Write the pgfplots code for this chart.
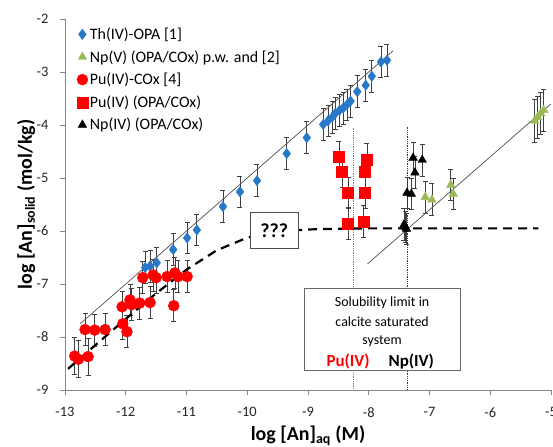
\documentclass[border=0pt]{standalone}
\usepackage{pgfplots}
\pgfplotsset{compat=1.18}
\usepackage{fontspec}
\setmainfont{Carlito}
\definecolor{thblue}{HTML}{2878C8}
\definecolor{npgreen}{HTML}{9BBB59}
\definecolor{pured}{HTML}{FF0000}
\definecolor{errgray}{HTML}{404040}
\definecolor{axisgray}{HTML}{868686}
\definecolor{fitgray}{HTML}{505050}
\begin{document}
\begin{tikzpicture}
\begin{axis}[name=ax, scale only axis, width=486bp, height=371bp,
  xmin=-13, xmax=-5, ymin=-9, ymax=-2,
  axis x line=bottom, axis y line=left,
  axis line style={-, draw=axisgray, line width=0.8bp},
  tick align=outside, major tick length=5bp,
  tick style={draw=axisgray, line width=0.8bp},
  xtick={-13,-12,...,-5}, ytick={-9,-8,...,-2},
  /pgf/number format/assume math mode=true,
  ticklabel style={font=\fontsize{14.5}{16}\selectfont, text=black!85},
  xticklabel style={yshift=-9bp},
  yticklabel style={xshift=-8bp},
  xlabel={log [An]\textsubscript{aq} (M)},
  ylabel={log [An]\textsubscript{solid} (mol/kg)},
  label style={font=\bfseries\fontsize{20}{24}\selectfont},
  xlabel style={at={(axis description cs:0.5,-0.124)}, anchor=center},
  ylabel style={at={(axis description cs:-0.08,0.5)}, anchor=center},
  clip=false,
  legend style={at={(axis description cs:0.022,0.985)}, anchor=north west,
    draw=none, fill=none, font=\fontsize{16}{19}\selectfont, row sep=5.5bp,
    inner sep=1bp},
  legend cell align=left,
  legend image code/.code={\draw[#1] plot coordinates {(0bp,0bp)};},
  error bars/y dir=both, error bars/y explicit,
  error bars/error bar style={color=errgray, line width=0.7bp},
  error bars/error mark options={rotate=90, mark size=2.5bp, color=errgray, line width=0.7bp},
]
% Th(IV)-OPA
\addplot[only marks, mark=diamond*, mark size=5.2bp, color=thblue] table[x=x, y=y, y error=e] {
x y e
-11.68 -6.69 0.3
-11.60 -6.66 0.3
-11.49 -6.60 0.3
-11.22 -6.35 0.3
-10.99 -6.13 0.3
-10.83 -5.98 0.3
-10.40 -5.54 0.3
-10.12 -5.26 0.3
-9.84 -5.05 0.3
-9.35 -4.54 0.3
-9.02 -4.24 0.3
-8.75 -3.99 0.3
-8.67 -3.92 0.3
-8.60 -3.85 0.3
-8.55 -3.78 0.3
-8.48 -3.72 0.3
-8.42 -3.68 0.3
-8.36 -3.62 0.3
-8.30 -3.55 0.3
-8.19 -3.37 0.3
-8.05 -3.25 0.3
-7.95 -3.08 0.3
-7.80 -2.81 0.3
-7.70 -2.78 0.3
};
\addlegendentry{Th(IV)-OPA [1]}
% Np(V)
\addplot[only marks, mark=triangle*, mark size=5bp, color=npgreen] table[x=x, y=y, y error=e] {
x y e
-7.07 -5.36 0.3
-6.96 -5.41 0.3
-6.65 -5.13 0.3
-6.61 -5.30 0.3
-5.27 -3.92 0.4
-5.22 -3.85 0.4
-5.17 -3.78 0.4
-5.12 -3.72 0.4
};
\addlegendentry{Np(V) (OPA/COx) p.w. and [2]}
% Pu(IV)-COx
\addplot[only marks, mark=*, mark size=5.5bp, color=pured] table[x=x, y=y, y error=e] {
x y e
-12.84 -8.36 0.35
-12.78 -8.42 0.35
-12.62 -8.37 0.35
-12.67 -7.86 0.3
-12.51 -7.87 0.3
-12.34 -7.86 0.3
-12.05 -7.75 0.3
-11.98 -7.90 0.3
-12.06 -7.43 0.3
-11.93 -7.30 0.3
-11.90 -7.39 0.3
-11.77 -7.36 0.3
-11.60 -7.35 0.3
-11.72 -6.88 0.3
-11.55 -6.83 0.3
-11.50 -6.88 0.3
-11.32 -6.86 0.3
-11.19 -6.79 0.3
-11.14 -6.86 0.3
-10.99 -6.86 0.3
-11.21 -7.41 0.3
};
\addlegendentry{Pu(IV)-COx [4]}
% Pu(IV) OPA/COx
\addplot[only marks, mark=square*, mark size=5.5bp, color=pured] table[x=x, y=y, y error=e] {
x y e
-8.49 -4.60 0.3
-8.44 -4.88 0.3
-8.34 -5.28 0.3
-8.34 -5.86 0.3
-8.03 -4.65 0.3
-8.06 -4.88 0.3
-8.06 -5.28 0.3
-8.09 -5.82 0.3
};
\addlegendentry{Pu(IV) (OPA/COx)}
% Np(IV) OPA/COx
\addplot[only marks, mark=triangle*, mark size=5bp, color=black] table[x=x, y=y, y error=e] {
x y e
-7.27 -4.62 0.3
-7.12 -4.66 0.3
-7.24 -4.90 0.3
-7.37 -5.28 0.3
-7.30 -5.30 0.3
-7.42 -5.88 0.3
-7.40 -5.92 0.3
-7.38 -5.96 0.3
};
\addlegendentry{Np(IV) (OPA/COx)}
% fitted lines
\addplot[forget plot, color=fitgray, line width=0.7bp] coordinates {(-12.75,-7.75) (-7.6,-2.6)};
\addplot[forget plot, color=fitgray, line width=0.7bp] coordinates {(-8.02,-6.62) (-5.0,-3.6)};
% dotted verticals
\addplot[forget plot, color=pured!70, densely dotted, line width=0.8bp] coordinates {(-8.26,-4.05) (-8.26,-9)};
\addplot[forget plot, color=black!80, densely dotted, line width=0.8bp] coordinates {(-7.37,-4.03) (-7.37,-9)};
% dashed sorption curve
\addplot[forget plot, color=black, line width=2.2bp, dash pattern=on 9bp off 6bp] coordinates {
(-12.95,-8.60) (-12.5,-8.153) (-12.0,-7.659) (-11.5,-7.177) (-11.0,-6.729)
(-10.5,-6.363) (-10.0,-6.126) (-9.5,-6.014) (-9.0,-5.971) (-8.5,-5.957)
(-8.0,-5.95) (-5.21,-5.95)};
% annotation boxes
\node[draw=black!70, fill=white, line width=0.8bp, minimum width=48bp, minimum height=36bp,
  inner sep=0pt, font=\bfseries\fontsize{20}{24}\selectfont] at (axis cs:-9.555,-5.995) {???};
\node[draw=black!60, fill=white, line width=0.8bp, minimum width=156bp, minimum height=82bp]
  at (axis cs:-7.78,-7.865) {};
\node[font=\fontsize{14}{16}\selectfont] at (axis cs:-7.78,-7.35) {Solubility limit in};
\node[font=\fontsize{14}{16}\selectfont] at (axis cs:-7.78,-7.72) {calcite saturated};
\node[font=\fontsize{14}{16}\selectfont] at (axis cs:-7.78,-8.08) {system};
\node[font=\bfseries\fontsize{17}{19}\selectfont, text=pured] at (axis cs:-8.34,-8.47) {Pu(IV)};
\node[font=\bfseries\fontsize{17}{19}\selectfont, text=black] at (axis cs:-7.30,-8.47) {Np(IV)};
\end{axis}
\pgfresetboundingbox
\path[use as bounding box] ([xshift=-65bp,yshift=-56bp]ax.south west) rectangle ([xshift=2bp,yshift=19bp]ax.north east);
\end{tikzpicture}
\end{document}
